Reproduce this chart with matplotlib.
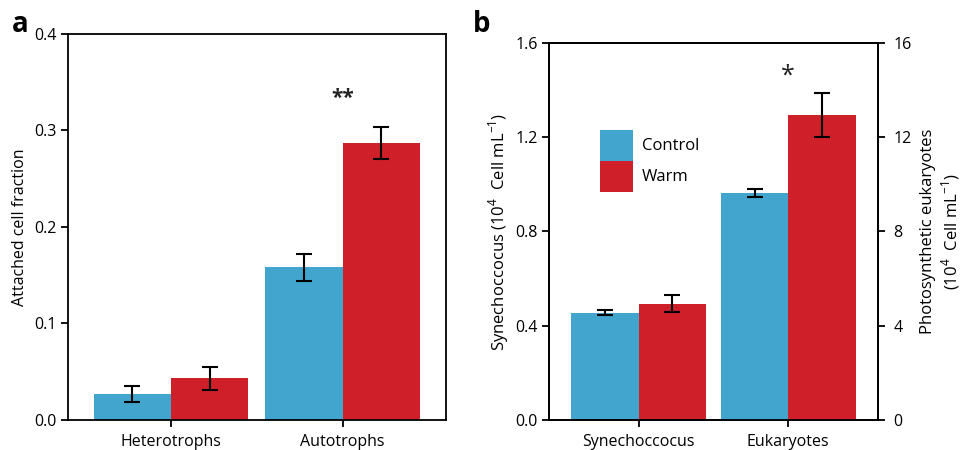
import numpy as np
import matplotlib
matplotlib.use("Agg")
import matplotlib.pyplot as plt
from matplotlib.patches import Patch

plt.rcParams['font.family'] = ['Open Sans', 'DejaVu Sans']
plt.rcParams['mathtext.fontset'] = 'custom'
plt.rcParams['mathtext.rm'] = 'Open Sans'

# panel a data
cats_a = ['Heterotrophs', 'Autotrophs']
ctrl_a = [0.027, 0.158]
ctrl_a_err = [0.0085, 0.014]
warm_a = [0.043, 0.287]
warm_a_err = [0.0115, 0.0165]

# panel b data (Synechoccocus on left axis, Eukaryotes on right axis)
cats_b = ['Synechoccocus', 'Eukaryotes']
syn_ctrl, syn_ctrl_err = 0.455, 0.011
syn_warm, syn_warm_err = 0.493, 0.036
euk_ctrl, euk_ctrl_err = 9.64, 0.16
euk_warm, euk_warm_err = 12.93, 0.93

blue = '#41a5ce'
red = '#cf2029'
w = 0.45
err_kw = dict(ecolor='black', elinewidth=1.5, capsize=6, capthick=1.5)

fig = plt.figure(figsize=(9.71, 4.5), dpi=100)

# ---------- panel a ----------
ax = fig.add_axes([0.070, 0.0667, 0.389, 0.858])
x = np.arange(len(cats_a))
ax.bar(x - w/2, ctrl_a, w, color=blue, yerr=ctrl_a_err, error_kw=err_kw)
ax.bar(x + w/2, warm_a, w, color=red, yerr=warm_a_err, error_kw=err_kw)
ax.set_xlim(-0.6, 1.6)
ax.set_ylim(0, 0.4)
ax.set_yticks([0.0, 0.1, 0.2, 0.3, 0.4])
ax.set_yticklabels(['0.0', '0.1', '0.2', '0.3', '0.4'])
ax.set_xticks(x)
ax.set_xticklabels(cats_a, fontsize=11.5)
ax.set_ylabel('Attached cell fraction', fontsize=11.5, labelpad=5)
ax.text(1, 0.333, '**', ha='center', va='center', fontsize=15, fontweight='bold', color='#222222')
for s in ax.spines.values():
    s.set_linewidth(1.3)
ax.tick_params(axis='y', direction='out', length=5, width=1.3, labelsize=11.5, pad=3)
ax.tick_params(axis='x', direction='out', length=5, width=1.3, pad=5)
fig.text(0.012, 0.945, 'a', fontsize=20, fontweight='bold', va='center')

# ---------- panel b ----------
bx = fig.add_axes([0.5654, 0.0667, 0.3388, 0.838])
bx.bar(0 - w/2, syn_ctrl, w, color=blue, yerr=syn_ctrl_err, error_kw=err_kw)
bx.bar(0 + w/2, syn_warm, w, color=red, yerr=syn_warm_err, error_kw=err_kw)
bx.set_xlim(-0.6, 1.6)
bx.set_ylim(0, 1.6)
bx.set_yticks([0.0, 0.4, 0.8, 1.2, 1.6])
bx.set_yticklabels(['0.0', '0.4', '0.8', '1.2', '1.6'])
bx.set_xticks([0, 1])
bx.set_xticklabels(cats_b, fontsize=11.5)
bx.set_ylabel(r'Synechoccocus (10$^{4}$  Cell mL$^{-1}$)', fontsize=12, labelpad=3)
for s in bx.spines.values():
    s.set_linewidth(1.3)
bx.tick_params(axis='y', direction='out', length=5, width=1.3, labelsize=11.5, pad=3)
bx.tick_params(axis='x', direction='out', length=5, width=1.3, pad=5)

rx = bx.twinx()
rx.bar(1 - w/2, euk_ctrl, w, color=blue, yerr=euk_ctrl_err, error_kw=err_kw)
rx.bar(1 + w/2, euk_warm, w, color=red, yerr=euk_warm_err, error_kw=err_kw)
rx.set_ylim(0, 16)
rx.set_yticks([0, 4, 8, 12, 16])
rx.set_ylabel('Photosynthetic eukaryotes\n' + r'(10$^{4}$  Cell mL$^{-1}$)', fontsize=12, labelpad=6)
for s in rx.spines.values():
    s.set_linewidth(1.3)
rx.tick_params(axis='y', direction='out', length=5, width=1.3, labelsize=11.5, pad=6)
rx.text(1, 14.6, '*', ha='center', va='center', fontsize=18, color='#222222')

handles = [Patch(facecolor=blue, edgecolor='none', label='Control'),
           Patch(facecolor=red, edgecolor='none', label='Warm')]
bx.legend(handles=handles, loc='upper left', bbox_to_anchor=(0.155, 0.77), frameon=False,
          fontsize=12, handlelength=2.0, handleheight=2.5, labelspacing=0.0,
          handletextpad=0.5, borderaxespad=0, borderpad=0)
fig.text(0.487, 0.945, 'b', fontsize=20, fontweight='bold', va='center')

fig.savefig('out.png', dpi=100)
